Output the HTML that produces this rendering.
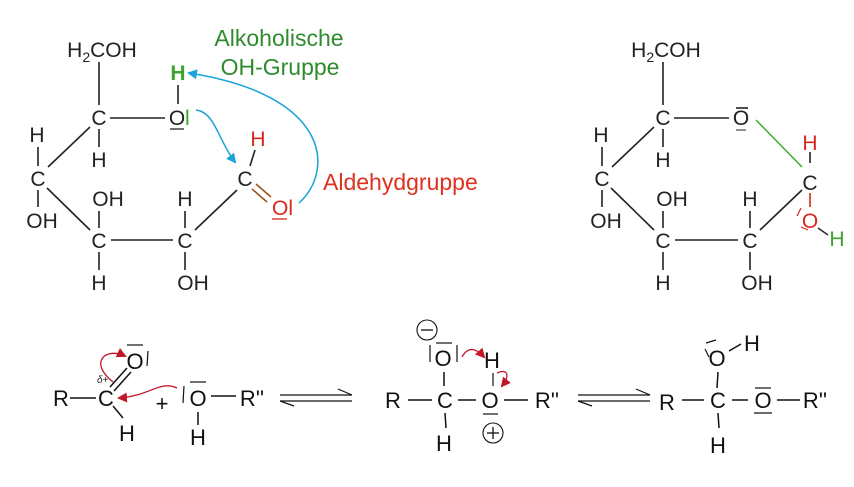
<!DOCTYPE html>
<html><head><meta charset="utf-8"><style>
html,body{margin:0;padding:0;background:#fff;width:854px;height:487px;overflow:hidden}
svg text{font-family:"Liberation Sans",Arial,sans-serif}
</style></head><body>
<svg width="854" height="487" viewBox="0 0 854 487" xmlns="http://www.w3.org/2000/svg">
<defs>
<marker id="ab" markerWidth="10" markerHeight="10" refX="8" refY="5" orient="auto" markerUnits="userSpaceOnUse"><path d="M0,0 L10,5 L0,10 Z" fill="#1aa3d8"/></marker>
<marker id="ar" markerWidth="10" markerHeight="10" refX="8" refY="5" orient="auto" markerUnits="userSpaceOnUse"><path d="M0,0 L10,5 L0,10 Z" fill="#c0182a"/></marker>
</defs>
<g stroke="#222" stroke-width="1.6" fill="none">
<line x1="99" y1="62" x2="99" y2="105"/>
<line x1="110" y1="118" x2="165" y2="118"/>
<line x1="178" y1="85" x2="178" y2="104"/>
<line x1="99" y1="129" x2="99" y2="147"/>
<line x1="90" y1="127" x2="48" y2="167"/>
<line x1="38" y1="147" x2="38" y2="166"/>
<line x1="38" y1="190" x2="38" y2="207"/>
<line x1="47" y1="188" x2="90" y2="230"/>
<line x1="99" y1="211" x2="99" y2="228"/>
<line x1="99" y1="252" x2="99" y2="270"/>
<line x1="111" y1="240" x2="173" y2="240"/>
<line x1="185" y1="211" x2="185" y2="228"/>
<line x1="185" y1="252" x2="185" y2="270"/>
<line x1="195" y1="230" x2="237" y2="190"/>
<line x1="255" y1="150" x2="250" y2="166"/>
<line x1="663" y1="62" x2="663" y2="105"/>
<line x1="674" y1="118" x2="729" y2="118"/>
<line x1="663" y1="129" x2="663" y2="147"/>
<line x1="654" y1="127" x2="612" y2="167"/>
<line x1="602" y1="147" x2="602" y2="166"/>
<line x1="602" y1="190" x2="602" y2="207"/>
<line x1="611" y1="188" x2="654" y2="230"/>
<line x1="663" y1="211" x2="663" y2="228"/>
<line x1="663" y1="252" x2="663" y2="270"/>
<line x1="675" y1="240" x2="738" y2="240"/>
<line x1="750" y1="211" x2="750" y2="228"/>
<line x1="750" y1="252" x2="750" y2="270"/>
<line x1="760" y1="230" x2="802" y2="190"/>
<line x1="810" y1="152" x2="810" y2="163"/>
<line x1="736" y1="108" x2="748" y2="108"/>
<line x1="736" y1="130" x2="746" y2="130" stroke-width="1"/>
</g>
<line x1="756" y1="120" x2="802" y2="167" stroke="#3aa52a" stroke-width="1.4"/>
<line x1="810" y1="193" x2="810" y2="207" stroke="#d4281c" stroke-width="1.6"/>
<line x1="818" y1="228" x2="828" y2="235" stroke="#222" stroke-width="1.4"/>
<line x1="801" y1="208" x2="797" y2="216" stroke="#d4281c" stroke-width="1.2"/>
<line x1="801" y1="227" x2="808" y2="230" stroke="#d4281c" stroke-width="1.2"/>
<g font-size="21" fill="#222" text-anchor="middle">
<text x="102" y="57">H<tspan font-size="14" dy="5">2</tspan><tspan dy="-5">COH</tspan></text>
<text x="99" y="125">C</text>
<text x="177" y="125">O</text>
<text x="99" y="167">H</text>
<text x="37" y="142">H</text>
<text x="38" y="186">C</text>
<text x="42" y="228">OH</text>
<text x="108" y="206">OH</text>
<text x="99" y="248">C</text>
<text x="99" y="290">H</text>
<text x="185" y="248">C</text>
<text x="185" y="206">H</text>
<text x="193" y="290">OH</text>
<text x="245" y="186">C</text>
<text x="666" y="57">H<tspan font-size="14" dy="5">2</tspan><tspan dy="-5">COH</tspan></text>
<text x="663" y="125">C</text>
<text x="741" y="125">O</text>
<text x="663" y="167">H</text>
<text x="601" y="142">H</text>
<text x="602" y="186">C</text>
<text x="606" y="228">OH</text>
<text x="672" y="206">OH</text>
<text x="663" y="248">C</text>
<text x="663" y="290">H</text>
<text x="750" y="248">C</text>
<text x="750" y="206">H</text>
<text x="757" y="290">OH</text>
<text x="810" y="190">C</text>
</g>
<line x1="170" y1="129" x2="184" y2="129" stroke="#222" stroke-width="1.3"/>
<text x="185" y="125" font-size="21" fill="#3aa52a">l</text>
<text x="178" y="80" font-size="21" font-weight="bold" fill="#3aa52a" text-anchor="middle">H</text>
<text x="258" y="146" font-size="21" fill="#d4281c" text-anchor="middle">H</text>
<text x="272" y="215" font-size="21" fill="#d4281c">Ol</text>
<line x1="272" y1="219" x2="287" y2="219" stroke="#d4281c" stroke-width="1.3"/>
<line x1="256" y1="184" x2="271" y2="197" stroke="#a0521c" stroke-width="1.6"/>
<line x1="252" y1="189" x2="267" y2="202" stroke="#a0521c" stroke-width="1.6"/>
<text x="279" y="46" font-size="23" fill="#2e8b2e" text-anchor="middle">Alkoholische</text>
<text x="280" y="75" font-size="23" fill="#2e8b2e" text-anchor="middle">OH-Gruppe</text>
<text x="323" y="190" font-size="23" fill="#e0301e">Aldehydgruppe</text>
<text x="810" y="150" font-size="21" fill="#d4281c" text-anchor="middle">H</text>
<text x="810" y="228" font-size="21" fill="#d4281c" text-anchor="middle">O</text>
<text x="837" y="246" font-size="21" fill="#3aa52a" text-anchor="middle">H</text>
<path d="M196,110 C215,112 218,140 235,162" stroke="#1aa3d8" stroke-width="1.5" fill="none" marker-end="url(#ab)"/>
<path d="M299,203 C335,170 330,95 189,73" stroke="#1aa3d8" stroke-width="1.5" fill="none" marker-end="url(#ab)"/>
<g font-size="22" fill="#111" text-anchor="middle">
<text x="61" y="406">R</text>
<text x="106" y="406">C</text>
<text x="135" y="369">O</text>
<text x="127" y="441">H</text>
<text x="162" y="411">+</text>
<text x="198" y="406">O</text>
<text x="252" y="406">R''</text>
<text x="198" y="445">H</text>
<text x="393" y="408">R</text>
<text x="445" y="408">C</text>
<text x="490" y="408">O</text>
<text x="547" y="408">R''</text>
<text x="443" y="366">O</text>
<text x="492" y="368">H</text>
<text x="444" y="451">H</text>
<text x="667" y="410">R</text>
<text x="718" y="408">C</text>
<text x="763" y="408">O</text>
<text x="815" y="408">R''</text>
<text x="717" y="366">O</text>
<text x="752" y="351">H</text>
<text x="718" y="453">H</text>
</g>
<text x="97" y="383" font-size="10" font-style="italic" fill="#222" font-family="Liberation Serif">δ+</text>
<g stroke="#111" stroke-width="1.5" fill="none">
<line x1="70" y1="398" x2="96" y2="398"/>
<line x1="110" y1="387" x2="127" y2="368"/>
<line x1="114" y1="391" x2="131" y2="372"/>
<line x1="113" y1="406" x2="123" y2="418"/>
<line x1="127" y1="345" x2="143" y2="345" stroke-width="1.2"/>
<line x1="148" y1="351" x2="147" y2="366" stroke-width="1.2"/>
<line x1="184" y1="386" x2="183" y2="403" stroke-width="1.2"/>
<line x1="190" y1="382" x2="206" y2="382" stroke-width="1.2"/>
<line x1="211" y1="396" x2="236" y2="396"/>
<line x1="198" y1="412" x2="198" y2="425"/>
<line x1="280" y1="395" x2="352" y2="395" stroke-width="1.2"/>
<line x1="338" y1="389" x2="352" y2="395" stroke-width="1.2"/>
<line x1="280" y1="401" x2="352" y2="401" stroke-width="1.2"/>
<line x1="280" y1="401" x2="294" y2="406" stroke-width="1.2"/>
<line x1="578" y1="395" x2="650" y2="395" stroke-width="1.2"/>
<line x1="636" y1="389" x2="650" y2="395" stroke-width="1.2"/>
<line x1="578" y1="401" x2="650" y2="401" stroke-width="1.2"/>
<line x1="578" y1="401" x2="592" y2="406" stroke-width="1.2"/>
<line x1="408" y1="400" x2="432" y2="400"/>
<line x1="458" y1="400" x2="476" y2="400"/>
<line x1="504" y1="400" x2="528" y2="400"/>
<line x1="444" y1="372" x2="444" y2="386"/>
<line x1="445" y1="413" x2="446" y2="428"/>
<line x1="493" y1="373" x2="493" y2="386" stroke-width="1.2"/>
<line x1="483" y1="414" x2="498" y2="414" stroke-width="1.2"/>
<line x1="436" y1="343" x2="452" y2="343" stroke-width="1.2"/>
<line x1="430" y1="345" x2="430" y2="362" stroke-width="1.2"/>
<line x1="457" y1="345" x2="457" y2="362" stroke-width="1.2"/>
<circle cx="427" cy="330" r="10" stroke-width="1.1"/>
<line x1="421" y1="330" x2="433" y2="330" stroke-width="1.3"/>
<circle cx="493" cy="433" r="10" stroke-width="1.1"/>
<line x1="487" y1="433" x2="499" y2="433" stroke-width="1.3"/>
<line x1="493" y1="427" x2="493" y2="439" stroke-width="1.3"/>
<line x1="682" y1="400" x2="704" y2="400"/>
<line x1="732" y1="400" x2="748" y2="400"/>
<line x1="777" y1="400" x2="800" y2="400"/>
<line x1="718" y1="372" x2="717" y2="388"/>
<line x1="718" y1="413" x2="719" y2="428"/>
<line x1="729" y1="351" x2="741" y2="344"/>
<line x1="755" y1="388" x2="771" y2="388" stroke-width="1.2"/>
<line x1="754" y1="413" x2="772" y2="413" stroke-width="1.2"/>
<line x1="706" y1="343" x2="716" y2="340" stroke-width="1.2"/>
<line x1="705" y1="349" x2="709" y2="357" stroke-width="1.2"/>
</g>
<g stroke="#c0182a" stroke-width="1.3" fill="none">
<path d="M113,382 C88,362 106,347 125,356" marker-end="url(#ar)"/>
<path d="M177,388 C160,380 150,396 119,398" marker-end="url(#ar)"/>
<path d="M462,357 C468,346 476,348 484,357" marker-end="url(#ar)"/>
<path d="M497,373 C508,368 510,376 502,386" marker-end="url(#ar)"/>
</g>
</svg>
</body></html>
